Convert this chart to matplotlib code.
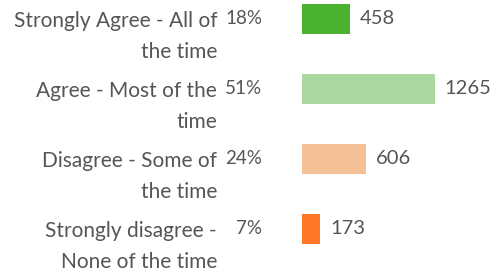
import matplotlib.pyplot as plt

categories = ['Strongly Agree - All of\nthe time',
              'Agree - Most of the\ntime',
              'Disagree - Some of\nthe time',
              'Strongly disagree -\nNone of the time']
percents = ['18%', '51%', '24%', '7%']
counts = [458, 1265, 606, 173]
colors = ['#4BB22F', '#ABD8A0', '#F4C096', '#FF7726']

plt.rcParams['font.family'] = ['Lato', 'DejaVu Sans']
text_color = '#555555'

fig = plt.figure(figsize=(4.95, 2.71), dpi=100)
ax = fig.add_axes([302 / 495, 0, 1 - 302 / 495, 1])

ypos = range(len(counts))
ax.barh(ypos, counts, height=30 / 70, color=colors, align='center')
ax.set_xlim(0, 193 / 0.105)
ax.set_ylim((271 - 19) / 70, -19 / 70)
ax.axis('off')

for i, (cat, pct, n) in enumerate(zip(categories, percents, counts)):
    ax.annotate(cat, xy=(0, i), xytext=(-85, 8), textcoords='offset pixels',
                ha='right', va='top', fontsize=15, color=text_color,
                linespacing=1.7)
    ax.annotate(pct, xy=(0, i), xytext=(-40, 0), textcoords='offset pixels',
                ha='right', va='center', fontsize=13.5, color=text_color)
    ax.annotate(str(n), xy=(n, i), xytext=(10, 0), textcoords='offset pixels',
                ha='left', va='center', fontsize=14.5, color=text_color)

fig.savefig('out.png', dpi=100)
